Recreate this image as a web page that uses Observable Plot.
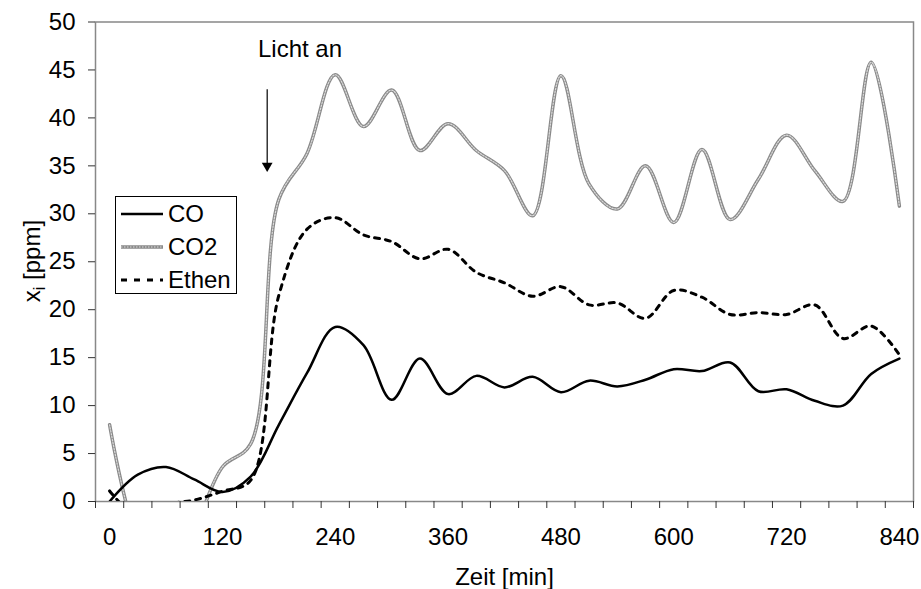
<!DOCTYPE html>
<html><head><meta charset="utf-8">
<script src="https://cdn.jsdelivr.net/npm/d3@7"></script>
<script src="https://cdn.jsdelivr.net/npm/@observablehq/plot@0.6"></script>
<style>body{margin:0;background:#fff;} #chart{position:relative;width:921px;height:589px;}</style>
</head><body><div id="chart"></div>
<script>
// time categories [min]
const times = [0,30,60,90,120,150,180,210,240,270,300,330,360,390,420,450,480,510,540,570,600,630,660,690,720,750,780,810,840];
// series values [ppm]
const co    = [0,2.8,3.6,2.3,1.0,2.6,8.0,13.4,18.2,16.3,10.6,14.9,11.2,13.1,11.9,13.0,11.4,12.6,12.0,12.7,13.8,13.6,14.5,11.5,11.7,10.5,10.0,13.3,14.9];
const co2   = [8.0,-4.0,-8.0,-3.0,3.6,6.0,31.5,36.3,44.5,39.1,42.9,36.6,39.4,36.6,34.5,29.8,44.4,33.1,30.5,35.0,29.1,36.7,29.4,33.6,38.2,34.5,31.3,45.8,30.8];
const ethen = [1.1,-1.5,-0.3,0.15,1.07,2.2,21.5,28.4,29.6,27.8,27.1,25.3,26.3,23.9,22.8,21.4,22.4,20.5,20.7,19.1,22.0,21.3,19.5,19.7,19.5,20.5,17.0,18.3,15.3];
const seriesNames = ["CO","CO2","Ethen"];
// axis ticks
const xTickLabels = [0,120,240,360,480,600,720,840];
const xTickMarks = [-15,15,45,75,105,135,165,195,225,255,285,315,345,375,405,435,465,495,525,555,585,615,645,675,705,735,765,795,825,855];
const yTicks = [0,5,10,15,20,25,30,35,40,45,50];
const xTitle = "Zeit [min]";
// annotation
const annotation = [{text:"Licht an", t:202.5, v:47.1}];
const arrow = [{t:167.6, v1:43.0, v2:35.3, tip:35.0}];

const rows = times.map((t,i)=>({t, co:co[i], co2:co2[i], ethen:ethen[i]}));
const font = '"Liberation Sans", Arial, sans-serif';
const crv = "catmull-rom";

const svg = Plot.plot({
  width:921, height:589, marginLeft:95, marginRight:8, marginTop:21.5, marginBottom:88,
  style:{fontFamily:font, fontSize:"24px", background:"white", color:"black"},
  x:{domain:[-15,855]}, y:{domain:[0,50]},
  marks:[
    Plot.frame({stroke:"#888", strokeWidth:1.5}),
    Plot.line(rows,{x:"t",y:"co2",curve:crv,stroke:"#8a8a8a",strokeWidth:3.5,clip:true}),
    Plot.line(rows,{x:"t",y:"co2",curve:crv,stroke:"#dcdcdc",strokeWidth:1.2,strokeDasharray:"1.5 1.5",clip:true}),
    Plot.line(rows,{x:"t",y:"ethen",curve:crv,stroke:"black",strokeWidth:3,strokeDasharray:"5 6",clip:true}),
    Plot.line(rows,{x:"t",y:"co",curve:crv,stroke:"black",strokeWidth:2.5,clip:true}),
    Plot.axisX(xTickMarks,{tickSize:7,tickFormat:()=>"",stroke:"#333",label:null}),
    Plot.axisX(xTickLabels,{tickSize:0,tickPadding:26,fontSize:24,label:null}),
    Plot.axisY(yTicks,{tickSize:7,tickPadding:13,fontSize:24,label:null,stroke:"#333"}),
    Plot.text([xTitle],{frameAnchor:"bottom",dy:66,lineAnchor:"top",fontSize:24,text:d=>d}),
    Plot.link(arrow,{x1:"t",x2:"t",y1:"v1",y2:"v2",stroke:"black",strokeWidth:1.2}),
    Plot.dot(arrow,{x:"t",y:"tip",symbol:"triangle",rotate:180,r:4,fill:"black",stroke:"none"}),
    Plot.text(annotation,{x:"t",y:"v",text:"text",fontSize:24})
  ]
});
document.getElementById("chart").appendChild(svg);

const s = d3.select(svg);
// y-axis title with subscript
const yl = s.append("text").attr("transform","translate(32,261) rotate(-90)")
  .attr("text-anchor","middle").attr("dy","0.35em")
  .attr("font-size",24).attr("font-family",font).attr("fill","black");
yl.append("tspan").text("x");
yl.append("tspan").attr("font-size",16).attr("dy",5).text("i");
yl.append("tspan").attr("dy",-5).text(" [ppm]");

// legend
const lg = s.append("g").attr("font-family",font).attr("font-size",24).attr("text-anchor","start");
lg.append("rect").attr("x",115.5).attr("y",196.5).attr("width",121).attr("height",97)
  .attr("fill","white").attr("stroke","black").attr("stroke-width",1);
const rowY = [214,247,280];
const styles = [
  [{stroke:"black",w:2.5,dash:null}],
  [{stroke:"#8a8a8a",w:3.5,dash:null},{stroke:"#dcdcdc",w:1.2,dash:"1.5 1.5"}],
  [{stroke:"black",w:3,dash:"6 7"}]
];
seriesNames.forEach((name,i)=>{
  styles[i].forEach(st=>{
    lg.append("line").attr("x1",121).attr("x2",163).attr("y1",rowY[i]).attr("y2",rowY[i])
      .attr("stroke",st.stroke).attr("stroke-width",st.w).attr("stroke-dasharray",st.dash);
  });
  lg.append("text").attr("x",168).attr("y",rowY[i]).attr("dy","0.35em").attr("fill","black").text(name);
});
</script></body></html>
